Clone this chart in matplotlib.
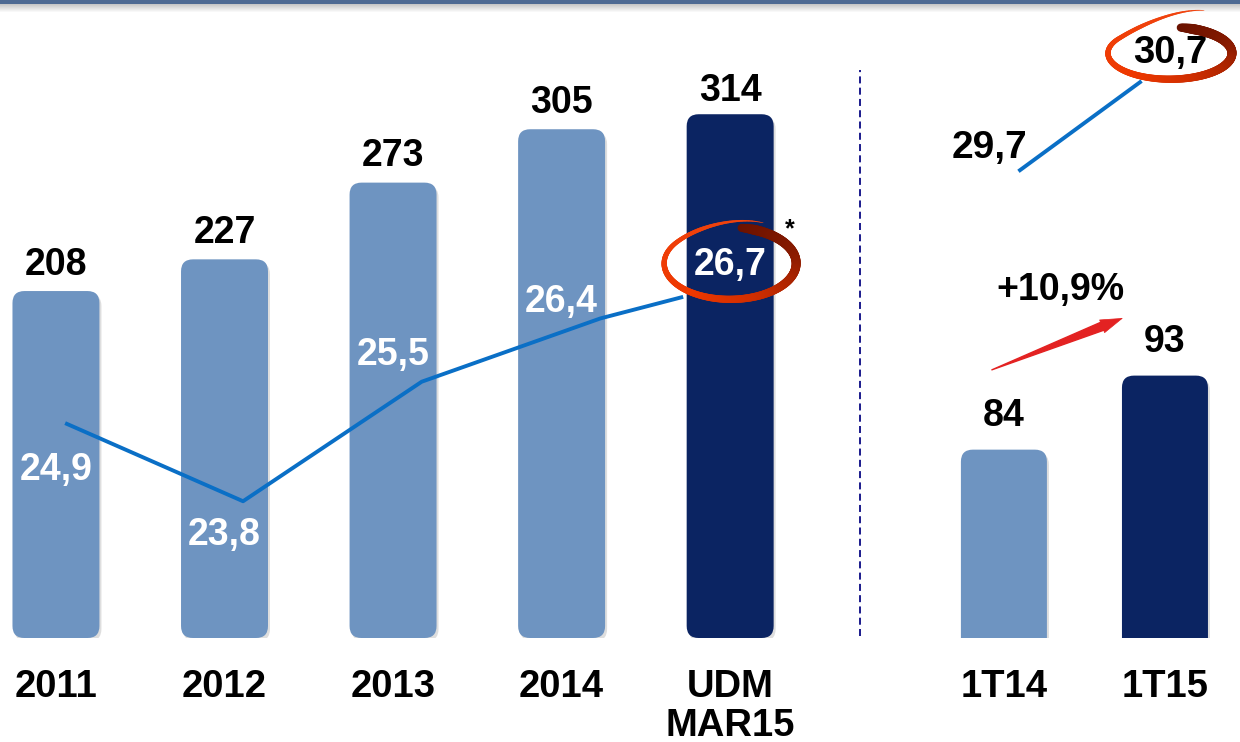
import numpy as np
import matplotlib
matplotlib.use("Agg")
import matplotlib.pyplot as plt
from matplotlib.patches import FancyBboxPatch, Rectangle
from matplotlib.collections import LineCollection
from matplotlib.transforms import IdentityTransform, offset_copy
from matplotlib.colors import to_rgb

plt.rcParams["font.family"] = ["Liberation Sans", "DejaVu Sans"]
plt.rcParams["font.weight"] = "bold"

# --- data ---
years = ["2011", "2012", "2013", "2014", "UDM\nMAR15"]
volumes = [208, 227, 273, 305, 314]
margins = [24.9, 23.8, 25.5, 26.4, 26.7]
margin_lbl = ["24,9", "23,8", "25,5", "26,4", "26,7"]

quarters = ["1T14", "1T15"]
q_volumes = [84, 93]
q_margins = [29.7, 30.7]
q_margin_lbl = ["29,7", "30,7"]
growth_lbl = "+10,9%"

LIGHT = "#6E94C1"
DARK = "#0B2462"
LINE = "#0A6FC6"

fig = plt.figure(figsize=(12.4, 7.42), dpi=100)
ax = fig.add_axes([0, 0.14016, 0.6935, 0.80593])
axr = fig.add_axes([0.6935, 0.14016, 0.3065, 0.80593])

ax.set_xlim(-0.332, 4.77)
ax.set_ylim(0, 358.5)
axr.set_xlim(-0.894, 1.466)
axr.set_ylim(61.1, 133.8)

ax2 = ax.twinx()
ax2.set_ylim(21.855, 30.36)
axr2 = axr.twinx()
axr2.set_ylim(24.38, 31.18)

for a in (ax, axr, ax2, axr2):
    for s in a.spines.values():
        s.set_visible(False)
    a.tick_params(length=0)
    a.set_yticks([])


def round_bars(a, bars, colors, radius=12):
    (x0, y0), (x1, y1) = a.transData.transform([(0, 0), (1, 1)])
    sx, sy = x1 - x0, y1 - y0
    for b, c in zip(bars, colors):
        b.set_visible(False)
        geom = (b.get_x(), b.get_y())
        kw = dict(boxstyle=f"round,pad=0,rounding_size={radius / sx}",
                  mutation_aspect=sx / sy)
        sh = FancyBboxPatch(geom, b.get_width(), b.get_height(), fc="#C8C8C8",
                            ec="none", alpha=0.6, zorder=1,
                            transform=offset_copy(a.transData, fig, x=2, y=-3, units="dots"), **kw)
        a.add_patch(sh)
        p = FancyBboxPatch(geom, b.get_width(), b.get_height(), fc=c,
                           ec="none", zorder=2, **kw)
        a.add_patch(p)


x = np.arange(len(years))
bars = ax.bar(x, volumes, width=0.516)
round_bars(ax, bars, [LIGHT] * 4 + [DARK])
vol_off = [19, 19, 19, 19, 17]
for xi, v, o in zip(x, volumes, vol_off):
    ax.annotate(str(v), (xi, v), xytext=(0, o), textcoords="offset points",
                ha="center", va="center", fontsize=27, fontweight="bold")
ax.set_xticks(x, years, fontsize=27.5, fontweight="bold")
ax.tick_params(axis="x", pad=22)
for t in ax.get_xticklabels():
    t.set_linespacing(1.12)

xq = np.arange(len(quarters))
qbars = axr.bar(xq, q_volumes, width=0.534)
round_bars(axr, qbars, [LIGHT, DARK])
for xi, v in zip(xq, q_volumes):
    axr.annotate(str(v), (xi, v), xytext=(0, 24), textcoords="offset points",
                 ha="center", va="center", fontsize=27, fontweight="bold")
axr.set_xticks(xq, quarters, fontsize=27.5, fontweight="bold")
axr.tick_params(axis="x", pad=22)

# margin lines
line_x = [0.065, 1.11, 2.17, 3.23, 3.71]
ax2.plot(line_x, margins, color=LINE, lw=2.8, zorder=3)
lab_off = [-33, -24.5, 19.5, 12, 23]
for xi, m, lbl, o in zip(x, margins, margin_lbl, lab_off):
    ax2.annotate(lbl, (xi, m), xytext=(0, o), textcoords="offset points",
                 ha="center", va="center", fontsize=27, fontweight="bold",
                 color="white", zorder=5)

qline_x = [0.1, 0.845]
axr2.plot(qline_x, q_margins, color=LINE, lw=2.8)
axr2.annotate(q_margin_lbl[0], (qline_x[0], q_margins[0]), xytext=(-22, 16),
              textcoords="offset points", ha="center", va="center",
              fontsize=28, fontweight="bold")
axr2.annotate(q_margin_lbl[1], (qline_x[1], q_margins[1]), xytext=(22, 21),
              textcoords="offset points", ha="center", va="center",
              fontsize=27.5, fontweight="bold")


def swoosh(a, xy, off, ra, rb, flare_x, flare_y):
    cx, cy = a.transData.transform(xy) + np.array(off)
    s = np.linspace(0, 1, 300)
    th = np.deg2rad(80 - 380 * s)
    f = np.clip((s - 0.78) / 0.22, 0, 1) ** 1.5
    px = cx + ra * (1 + flare_x * f) * np.cos(th)
    py = cy + rb * (1 + flare_y * f) * np.sin(th)
    pts = np.column_stack([px, py]).reshape(-1, 1, 2)
    segs = np.concatenate([pts[:-1], pts[1:]], axis=1)
    sm = (s[:-1] + s[1:]) / 2
    lw = np.interp(sm, [0, 0.03, 0.3, 0.6, 0.85, 1.0], [8, 10, 8.5, 6, 4, 0.5]) / 1.389
    stops = [0, 0.2, 0.4, 0.55, 1.0]
    cols = [to_rgb(c) for c in ["#6A1200", "#8E1C00", "#CF2E00", "#EE3800", "#F04510"]]
    rgb = np.column_stack([np.interp(sm, stops, [c[i] for c in cols]) for i in range(3)])
    lc = LineCollection(segs, linewidths=lw, colors=rgb, transform=IdentityTransform(),
                        capstyle="round", zorder=6)
    fig.add_artist(lc)


swoosh(ax2, (4, margins[4]), (0, 34), 66, 36, 0.0, 0.3)
swoosh(axr2, (qline_x[1], q_margins[1]), (30, 29), 62, 26, 0.1, 0.9)

# growth arrow: thin wedge widening toward a small head
arrow_tail = (-0.075, 93.7)
arrow_head = (0.74, 100.0)
arrow_neck = (0.63, 99.15)
axr.annotate("", xy=arrow_tail, xytext=arrow_neck,
             arrowprops=dict(arrowstyle="wedge,tail_width=0.45,shrink_factor=0.5",
                             color="#E32222", mutation_scale=14, shrinkA=0, shrinkB=0))
axr.annotate("", xy=arrow_head, xytext=arrow_neck,
             arrowprops=dict(arrowstyle="-|>,head_length=1.1,head_width=0.35",
                             color="#E32222", lw=0.5, mutation_scale=14, shrinkA=0, shrinkB=0))
axr.text(0.35, 103.4, growth_lbl, ha="center", va="center", fontsize=27, fontweight="bold")

ax.text(4.356, 245, "*", ha="center", va="center", fontsize=18, fontweight="bold")

# divider
axr.axvline(-0.894, ymin=0.003, ymax=0.95, color="#1A1A8C", lw=1.4,
            dashes=(3.6, 2.2), clip_on=False)

# top strip
fig.add_artist(Rectangle((0, 1 - 4 / 742), 1, 4 / 742, transform=fig.transFigure,
                         fc="#4E6A93", ec="none"))
for i in range(8):
    fig.add_artist(Rectangle((0, 1 - (5 + i) / 742), 1, 1 / 742, transform=fig.transFigure,
                             fc="#909090", ec="none", alpha=0.5 * (1 - i / 8)))

fig.savefig("out.png", dpi=100)
